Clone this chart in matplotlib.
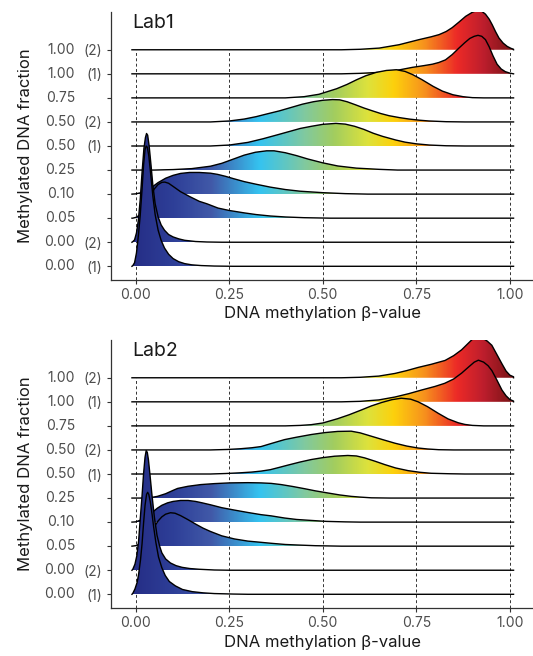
import numpy as np
import matplotlib
matplotlib.use("Agg")
import matplotlib.pyplot as plt
from matplotlib.colors import LinearSegmentedColormap
from matplotlib.patches import Polygon

plt.rcParams['font.family'] = ['Inter', 'DejaVu Sans']

# ---------------- data ----------------
row_fraction = ['0.00', '0.00', '0.05', '0.10', '0.25', '0.50', '0.50', '0.75', '1.00', '1.00']
row_rep = ['(1)', '(2)', '', '', '', '(1)', '(2)', '', '(1)', '(2)']
x_ticks = [0.0, 0.25, 0.5, 0.75, 1.0]
x_tick_labels = ['0.00', '0.25', '0.50', '0.75', '1.00']
panel_titles = ['Lab1', 'Lab2']
x_label = 'DNA methylation β-value'
y_label = 'Methylated DNA fraction'

# density range of each ridge
X_MIN, X_MAX = -0.01, 1.01

# ----- Lab1 ridges (x, height in row units) -----
lab1_r0_x = [-0.008, -0.003, 0.002, 0.007, 0.012, 0.017, 0.021, 0.025, 0.028, 0.031, 0.035, 0.040, 0.046, 0.052, 0.060, 0.068, 0.077, 0.088, 0.100, 0.115, 0.131, 0.150, 0.175, 0.210, 0.260]
lab1_r0_h = [0.02, 0.15, 0.55, 1.25, 2.10, 3.20, 4.20, 4.85, 5.00, 4.95, 4.60, 3.85, 2.90, 2.15, 1.50, 1.08, 0.76, 0.50, 0.32, 0.19, 0.11, 0.06, 0.03, 0.01, 0.0]
lab1_r1_x = [-0.008, -0.003, 0.002, 0.007, 0.012, 0.017, 0.022, 0.026, 0.029, 0.032, 0.036, 0.041, 0.046, 0.052, 0.060, 0.068, 0.077, 0.088, 0.100, 0.115, 0.131, 0.160, 0.190, 0.230]
lab1_r1_h = [0.02, 0.10, 0.38, 0.90, 1.75, 2.90, 3.90, 4.35, 4.52, 4.45, 4.00, 3.20, 2.35, 1.60, 1.05, 0.72, 0.50, 0.32, 0.22, 0.14, 0.08, 0.03, 0.01, 0.0]
lab1_r2_x = [-0.008, 0.0, 0.01, 0.02, 0.03, 0.04, 0.05, 0.06, 0.07, 0.078, 0.088, 0.10, 0.12, 0.144, 0.17, 0.19, 0.22, 0.25, 0.29, 0.322, 0.36, 0.40, 0.45, 0.52]
lab1_r2_h = [0.0, 0.03, 0.12, 0.30, 0.60, 0.95, 1.22, 1.40, 1.49, 1.50, 1.45, 1.32, 1.10, 0.90, 0.70, 0.60, 0.42, 0.32, 0.22, 0.15, 0.09, 0.05, 0.02, 0.0]
lab1_r3_x = [0.0, 0.02, 0.04, 0.06, 0.08, 0.10, 0.12, 0.144, 0.17, 0.20, 0.219, 0.24, 0.262, 0.29, 0.322, 0.36, 0.40, 0.44, 0.50, 0.56, 0.62]
lab1_r3_h = [0.01, 0.08, 0.25, 0.48, 0.66, 0.78, 0.86, 0.90, 0.90, 0.87, 0.82, 0.74, 0.64, 0.52, 0.41, 0.29, 0.19, 0.12, 0.06, 0.02, 0.0]
lab1_r4_x = [0.05, 0.10, 0.15, 0.20, 0.23, 0.26, 0.29, 0.32, 0.35, 0.37, 0.40, 0.43, 0.46, 0.50, 0.54, 0.59, 0.65, 0.70]
lab1_r4_h = [0.0, 0.02, 0.06, 0.16, 0.28, 0.45, 0.62, 0.74, 0.80, 0.80, 0.72, 0.60, 0.46, 0.30, 0.17, 0.08, 0.03, 0.0]
lab1_r5_x = [0.20, 0.25, 0.30, 0.34, 0.38, 0.41, 0.44, 0.47, 0.50, 0.535, 0.56, 0.585, 0.61, 0.635, 0.66, 0.695, 0.72, 0.75, 0.785, 0.83, 0.88]
lab1_r5_h = [0.0, 0.04, 0.15, 0.30, 0.47, 0.60, 0.73, 0.82, 0.90, 0.94, 0.91, 0.82, 0.69, 0.53, 0.40, 0.25, 0.16, 0.09, 0.04, 0.01, 0.0]
lab1_r6_x = [0.20, 0.25, 0.29, 0.322, 0.35, 0.384, 0.415, 0.446, 0.475, 0.50, 0.526, 0.545, 0.565, 0.588, 0.61, 0.633, 0.655, 0.677, 0.705, 0.731, 0.76, 0.784, 0.83, 0.88]
lab1_r6_h = [0.0, 0.04, 0.12, 0.22, 0.33, 0.46, 0.60, 0.74, 0.84, 0.90, 0.93, 0.92, 0.84, 0.71, 0.58, 0.46, 0.35, 0.26, 0.18, 0.12, 0.07, 0.04, 0.01, 0.0]
lab1_r7_x = [0.40, 0.45, 0.49, 0.537, 0.565, 0.59, 0.615, 0.643, 0.67, 0.697, 0.72, 0.74, 0.765, 0.795, 0.82, 0.848, 0.875, 0.90, 0.93]
lab1_r7_h = [0.0, 0.05, 0.15, 0.38, 0.56, 0.75, 0.92, 1.06, 1.14, 1.17, 1.10, 0.97, 0.76, 0.48, 0.28, 0.13, 0.05, 0.01, 0.0]
lab1_r8_x = [0.55, 0.60, 0.651, 0.70, 0.74, 0.77, 0.793, 0.81, 0.828, 0.846, 0.864, 0.88, 0.893, 0.905, 0.915, 0.925, 0.935, 0.945, 0.955, 0.966, 0.977, 0.988, 1.0, 1.01]
lab1_r8_h = [0.0, 0.02, 0.06, 0.15, 0.27, 0.34, 0.40, 0.47, 0.58, 0.80, 1.07, 1.30, 1.47, 1.56, 1.60, 1.56, 1.42, 1.12, 0.75, 0.40, 0.20, 0.09, 0.03, 0.0]
lab1_r9_x = [0.55, 0.60, 0.651, 0.704, 0.757, 0.79, 0.811, 0.83, 0.846, 0.864, 0.882, 0.90, 0.913, 0.925, 0.935, 0.945, 0.953, 0.962, 0.971, 0.982, 0.993, 1.003, 1.01]
lab1_r9_h = [0.0, 0.02, 0.07, 0.21, 0.42, 0.54, 0.63, 0.76, 0.92, 1.15, 1.39, 1.56, 1.64, 1.60, 1.48, 1.27, 1.04, 0.75, 0.49, 0.28, 0.14, 0.06, 0.02]

# ----- Lab2 ridges -----
lab2_r0_x = [-0.008, -0.002, 0.004, 0.008, 0.013, 0.017, 0.021, 0.025, 0.029, 0.032, 0.035, 0.039, 0.044, 0.048, 0.054, 0.061, 0.070, 0.079, 0.090, 0.106, 0.125, 0.151, 0.180, 0.210, 0.260, 0.300]
lab2_r0_h = [0.03, 0.22, 0.50, 0.85, 1.45, 2.10, 2.95, 3.70, 4.15, 4.24, 4.15, 3.85, 3.30, 2.80, 2.15, 1.55, 1.10, 0.78, 0.53, 0.35, 0.20, 0.11, 0.06, 0.03, 0.01, 0.0]
lab2_r1_x = [-0.008, -0.002, 0.003, 0.008, 0.012, 0.017, 0.021, 0.025, 0.028, 0.031, 0.034, 0.038, 0.043, 0.050, 0.057, 0.064, 0.070, 0.080, 0.093, 0.108, 0.124, 0.145, 0.170, 0.210, 0.250]
lab2_r1_h = [0.03, 0.25, 0.60, 1.25, 2.10, 3.10, 4.00, 4.70, 4.97, 4.90, 4.60, 4.00, 3.20, 2.20, 1.45, 1.00, 0.72, 0.47, 0.30, 0.19, 0.12, 0.07, 0.04, 0.01, 0.0]
lab2_r2_x = [0.0, 0.015, 0.03, 0.045, 0.06, 0.07, 0.08, 0.093, 0.105, 0.12, 0.14, 0.16, 0.18, 0.20, 0.23, 0.264, 0.30, 0.335, 0.362, 0.40, 0.43, 0.48, 0.55]
lab2_r2_h = [0.02, 0.12, 0.35, 0.70, 1.05, 1.22, 1.33, 1.39, 1.37, 1.27, 1.10, 0.92, 0.75, 0.61, 0.43, 0.30, 0.21, 0.16, 0.12, 0.07, 0.05, 0.02, 0.0]
lab2_r3_x = [0.0, 0.02, 0.04, 0.058, 0.07, 0.085, 0.10, 0.12, 0.14, 0.16, 0.178, 0.20, 0.23, 0.264, 0.30, 0.335, 0.362, 0.398, 0.43, 0.469, 0.51, 0.56, 0.60]
lab2_r3_h = [0.01, 0.12, 0.35, 0.58, 0.70, 0.80, 0.86, 0.90, 0.90, 0.86, 0.80, 0.72, 0.60, 0.50, 0.40, 0.31, 0.26, 0.17, 0.11, 0.07, 0.03, 0.01, 0.0]
lab2_r4_x = [0.02, 0.04, 0.058, 0.08, 0.10, 0.112, 0.14, 0.174, 0.21, 0.25, 0.30, 0.335, 0.362, 0.389, 0.42, 0.451, 0.48, 0.514, 0.545, 0.576, 0.60, 0.63, 0.68]
lab2_r4_h = [0.0, 0.02, 0.07, 0.18, 0.32, 0.40, 0.49, 0.56, 0.60, 0.63, 0.64, 0.63, 0.61, 0.56, 0.48, 0.39, 0.30, 0.21, 0.13, 0.07, 0.04, 0.01, 0.0]
lab2_r5_x = [0.20, 0.24, 0.28, 0.31, 0.335, 0.36, 0.385, 0.407, 0.44, 0.469, 0.50, 0.532, 0.567, 0.59, 0.612, 0.64, 0.666, 0.695, 0.728, 0.76, 0.79, 0.84, 0.88]
lab2_r5_h = [0.0, 0.02, 0.05, 0.08, 0.12, 0.18, 0.28, 0.37, 0.50, 0.60, 0.68, 0.74, 0.77, 0.75, 0.67, 0.53, 0.39, 0.25, 0.14, 0.07, 0.03, 0.01, 0.0]
lab2_r6_x = [0.20, 0.246, 0.28, 0.31, 0.335, 0.365, 0.398, 0.43, 0.469, 0.505, 0.54, 0.576, 0.60, 0.63, 0.66, 0.693, 0.725, 0.755, 0.78, 0.81, 0.85]
lab2_r6_h = [0.0, 0.02, 0.05, 0.09, 0.14, 0.28, 0.43, 0.53, 0.64, 0.72, 0.77, 0.78, 0.71, 0.57, 0.43, 0.28, 0.16, 0.08, 0.04, 0.01, 0.0]
lab2_r7_x = [0.40, 0.44, 0.469, 0.50, 0.54, 0.57, 0.603, 0.63, 0.657, 0.685, 0.71, 0.735, 0.755, 0.78, 0.809, 0.835, 0.862, 0.88, 0.90, 0.93]
lab2_r7_h = [0.0, 0.02, 0.05, 0.12, 0.30, 0.46, 0.66, 0.83, 0.97, 1.09, 1.15, 1.11, 1.00, 0.80, 0.52, 0.29, 0.13, 0.06, 0.02, 0.0]
lab2_r8_x = [0.55, 0.60, 0.65, 0.693, 0.73, 0.764, 0.80, 0.826, 0.85, 0.871, 0.89, 0.905, 0.916, 0.93, 0.942, 0.952, 0.965, 0.979, 0.99, 1.0, 1.01]
lab2_r8_h = [0.0, 0.02, 0.08, 0.20, 0.34, 0.49, 0.64, 0.77, 0.95, 1.19, 1.45, 1.65, 1.73, 1.65, 1.50, 1.30, 0.92, 0.49, 0.25, 0.10, 0.03]
lab2_r9_x = [0.55, 0.60, 0.65, 0.693, 0.725, 0.755, 0.79, 0.827, 0.85, 0.871, 0.89, 0.902, 0.912, 0.925, 0.94, 0.952, 0.965, 0.979, 0.99, 1.0, 1.01]
lab2_r9_h = [0.0, 0.02, 0.07, 0.18, 0.30, 0.43, 0.56, 0.72, 0.92, 1.16, 1.45, 1.63, 1.72, 1.67, 1.52, 1.35, 0.98, 0.58, 0.28, 0.11, 0.04]

lab1_ridges = [(lab1_r0_x, lab1_r0_h), (lab1_r1_x, lab1_r1_h), (lab1_r2_x, lab1_r2_h),
               (lab1_r3_x, lab1_r3_h), (lab1_r4_x, lab1_r4_h), (lab1_r5_x, lab1_r5_h),
               (lab1_r6_x, lab1_r6_h), (lab1_r7_x, lab1_r7_h), (lab1_r8_x, lab1_r8_h),
               (lab1_r9_x, lab1_r9_h)]
lab2_ridges = [(lab2_r0_x, lab2_r0_h), (lab2_r1_x, lab2_r1_h), (lab2_r2_x, lab2_r2_h),
               (lab2_r3_x, lab2_r3_h), (lab2_r4_x, lab2_r4_h), (lab2_r5_x, lab2_r5_h),
               (lab2_r6_x, lab2_r6_h), (lab2_r7_x, lab2_r7_h), (lab2_r8_x, lab2_r8_h),
               (lab2_r9_x, lab2_r9_h)]

# gradient colour stops (beta value -> colour)
grad_pos = [0.0, 0.10, 0.20, 0.33, 0.45, 0.53, 0.62, 0.69, 0.77, 0.86, 0.93, 1.0]
grad_col = ['#262f87', '#2e3f98', '#4159a8', '#35c3f0', '#80c9a0', '#a2cd5f',
            '#dde23c', '#fdd10c', '#f7941d', '#ec2a27', '#be1e2d', '#801518']

# ---------------- drawing ----------------
W, H = 533, 656
fig = plt.figure(figsize=(W / 100, H / 100), dpi=100)

cmap = LinearSegmentedColormap.from_list('beta', list(zip(grad_pos, grad_col)))
grad_img = np.linspace(X_MIN, X_MAX, 600).reshape(1, -1)

XLIM = (-0.066, 1.062)
YLIM = (-0.57, 10.57)

axes_boxes = [(111, 12, 533, 280), (111, 340, 533, 608)]
text_col = '#4d4d4d'


def draw_panel(ax, ridges, title):
    n = len(ridges)
    for i, (xs, hs) in enumerate(ridges):
        px = [X_MIN] + list(xs) + [X_MAX]
        ph = [0.0] + list(hs) + [0.0]
        base = i
        ys = [base + h for h in ph]
        z = 10 + (n - 1 - i) * 3
        verts = list(zip(px, ys)) + [(X_MAX, base), (X_MIN, base)]
        poly = Polygon(verts, closed=True, facecolor='none', edgecolor='none', zorder=z)
        ax.add_patch(poly)
        top = base + max(ph) + 0.2
        im = ax.imshow(grad_img, cmap=cmap, vmin=0.0, vmax=1.0, aspect='auto',
                       extent=(X_MIN, X_MAX, base, top), origin='lower',
                       interpolation='bilinear', zorder=z)
        im.set_clip_path(poly)
        ax.plot(px, ys, color='black', lw=1.0, zorder=z + 1, solid_joinstyle='round')
    # dashed reference lines
    ax.vlines(x_ticks, YLIM[0], n - 1, colors='#333333', linestyles=(0, (3, 2.5)),
              lw=0.7, zorder=2)
    ax.set_xlim(*XLIM)
    ax.set_ylim(*YLIM)
    ax.set_xticks(x_ticks)
    ax.set_xticklabels(x_tick_labels)
    ax.set_yticks(range(n))
    ax.set_yticklabels(row_rep)
    for i in range(n):
        ax.annotate(row_fraction[i], xy=(0, i), xycoords=('axes fraction', 'data'),
                    xytext=(-36, 0), textcoords='offset pixels', ha='right', va='center',
                    fontsize=10, color=text_col)
    ax.tick_params(axis='both', labelsize=10, labelcolor=text_col, color='#333333',
                   length=3, width=0.8, pad=3)
    for s in ['top', 'right']:
        ax.spines[s].set_visible(False)
    for s in ['left', 'bottom']:
        ax.spines[s].set_color('#333333')
        ax.spines[s].set_linewidth(0.9)
    ax.set_xlabel(x_label, fontsize=12, color='#1a1a1a', labelpad=3)
    ax.set_ylabel(y_label, fontsize=12, color='#1a1a1a', labelpad=37)
    ax.text(-0.01, 10.5, title, fontsize=14, color='#1a1a1a', ha='left', va='top')


for (l, t, r, b), ridges, title in zip(axes_boxes, [lab1_ridges, lab2_ridges], panel_titles):
    ax = fig.add_axes([l / W, 1 - b / H, (r - l) / W, (b - t) / H])
    ax.set_facecolor('white')
    draw_panel(ax, ridges, title)

fig.savefig('out.png', dpi=100, facecolor='white')
